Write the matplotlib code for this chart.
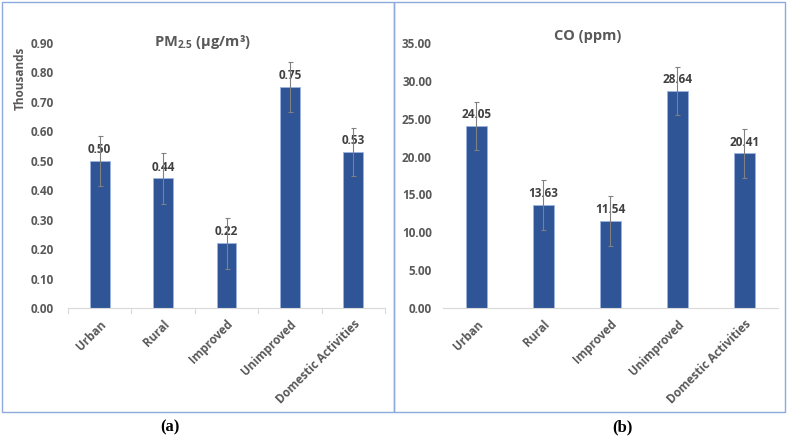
import matplotlib.pyplot as plt
from matplotlib.patches import Rectangle

plt.rcParams["font.family"] = ["Open Sans", "DejaVu Sans"]
plt.rcParams["mathtext.default"] = "regular"

categories = ["Urban", "Rural", "Improved", "Unimproved", "Domestic Activities"]
pm25 = [0.50, 0.44, 0.22, 0.75, 0.53]
pm25_err = [0.085, 0.086, 0.086, 0.086, 0.082]
co = [24.05, 13.63, 11.54, 28.64, 20.41]
co_err = [3.2, 3.3, 3.3, 3.2, 3.2]

bar_color = "#2F5597"
text_gray = "#595959"
label_gray = "#404040"
frame_blue = "#8EA9DB"

fig = plt.figure(figsize=(7.89, 4.38), dpi=100)

# panel frames
fig.patches.append(Rectangle((2 / 789, 1 - 412 / 438), 392 / 789, 410 / 438,
                             transform=fig.transFigure, fill=False,
                             edgecolor=frame_blue, lw=1.0))
fig.patches.append(Rectangle((394 / 789, 1 - 412 / 438), 391 / 789, 410 / 438,
                             transform=fig.transFigure, fill=False,
                             edgecolor=frame_blue, lw=1.0))

ax1 = fig.add_axes([68 / 789, 1 - 308 / 438, 317 / 789, 265 / 438])
ax2 = fig.add_axes([443 / 789, 1 - 308 / 438, 334.7 / 789, 265 / 438])


def draw(ax, values, errs, ymax, step, fmt, pad):
    x = range(len(categories))
    ax.bar(x, values, width=0.31, color=bar_color, edgecolor="#9DB4E0",
           linewidth=0.6, zorder=2)
    ax.errorbar(x, values, yerr=errs, fmt="none", ecolor="#808080",
                elinewidth=0.8, capsize=1.8, capthick=0.8, zorder=5)
    for xi, v in zip(x, values):
        ax.annotate(fmt.format(v), (xi, v), xytext=(0, 3.5),
                    textcoords="offset points", ha="center", va="bottom",
                    fontsize=8.5, fontweight="bold", color=label_gray, zorder=3)
    ax.set_xlim(-0.5, len(categories) - 0.5)
    ax.set_ylim(0, ymax)
    ticks = [i * step for i in range(int(round(ymax / step)) + 1)]
    ax.set_yticks(ticks)
    ax.set_yticklabels([fmt.format(t) for t in ticks])
    ax.set_xticks(list(x))
    ax.set_xticklabels(categories, rotation=45, ha="right", va="top",
                       rotation_mode="anchor")
    for s in ["top", "right", "left"]:
        ax.spines[s].set_visible(False)
    ax.spines["bottom"].set_color("#D9D9D9")
    ax.spines["bottom"].set_linewidth(0.8)
    ax.tick_params(axis="y", length=0, pad=pad, labelsize=8.5,
                   labelcolor=text_gray)
    ax.tick_params(axis="x", length=0, pad=7, labelsize=8.5,
                   labelcolor=text_gray)
    for lbl in ax.get_xticklabels() + ax.get_yticklabels():
        lbl.set_fontweight("bold")


draw(ax1, pm25, pm25_err, 0.9, 0.1, "{:.2f}", 10)
draw(ax2, co, co_err, 35, 5, "{:.2f}", 8)

# category separator tick marks on the left panel
for b in [-0.5, 0.5, 1.5, 2.5, 3.5, 4.5]:
    ax1.plot([b, b], [0, -0.018], color="#D9D9D9", lw=0.8, clip_on=False)

fig.text(203 / 789, 1 - 42 / 438, r"PM$_{2.5}$ (µg/m³)", ha="center",
         va="center", fontsize=10.5, fontweight="bold", color=text_gray)
fig.text(588 / 789, 1 - 36 / 438, "CO (ppm)", ha="center", va="center",
         fontsize=10.5, fontweight="bold", color=text_gray)
fig.text(20 / 789, 1 - 78 / 438, "Thousands", rotation=90, ha="center",
         va="center", fontsize=8.5, fontweight="bold", color=text_gray)

fig.text(170 / 789, 1 - 427 / 438, "(a)", ha="center", va="center",
         fontsize=12, fontweight="bold", family="Liberation Serif")
fig.text(622 / 789, 1 - 427 / 438, "(b)", ha="center", va="center",
         fontsize=12, fontweight="bold", family="Liberation Serif")

fig.savefig("out.png", dpi=100)
